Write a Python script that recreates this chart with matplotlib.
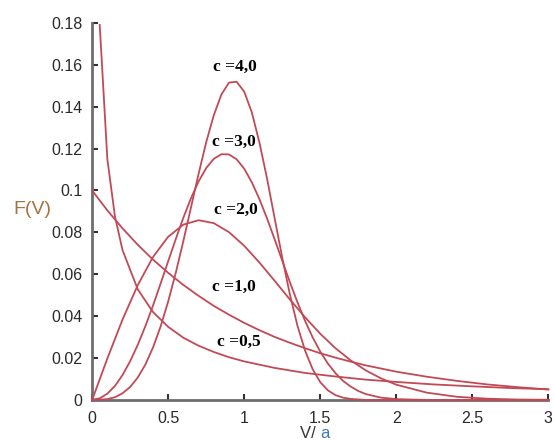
import matplotlib
matplotlib.use("Agg")
import matplotlib.pyplot as plt

# Weibull densities F(V) for several shape factors c
x_c05 = [0.05, 0.1, 0.15, 0.2, 0.3, 0.4, 0.5, 0.6, 0.7, 0.8, 0.9, 1.0,
         1.2, 1.4, 1.6, 1.8, 2.0, 2.25, 2.5, 2.75, 3.0]
y_c05 = [0.179, 0.115, 0.0876, 0.0715, 0.0528, 0.042, 0.0349, 0.0297, 0.0259,
         0.0229, 0.0204, 0.0184, 0.0153, 0.0129, 0.0112, 0.0097, 0.0086,
         0.0074, 0.0065, 0.0057, 0.0051]

x_c1 = [0, 0.1, 0.2, 0.3, 0.4, 0.5, 0.6, 0.7, 0.8, 0.9, 1.0, 1.1, 1.2, 1.3,
        1.4, 1.5, 1.6, 1.7, 1.8, 1.9, 2.0, 2.2, 2.4, 2.6, 2.8, 3.0]
y_c1 = [0.1, 0.0905, 0.0819, 0.0741, 0.067, 0.0607, 0.0549, 0.0497, 0.0449,
        0.0407, 0.0368, 0.0333, 0.0301, 0.0273, 0.0247, 0.0223, 0.0202,
        0.0183, 0.0165, 0.015, 0.0135, 0.0111, 0.0091, 0.0074, 0.0061, 0.005]

x_c2 = [0, 0.1, 0.2, 0.3, 0.4, 0.5, 0.6, 0.7, 0.8, 0.9, 1.0, 1.1, 1.2, 1.3,
        1.4, 1.5, 1.6, 1.7, 1.8, 1.9, 2.0, 2.2, 2.4, 2.6, 2.8, 3.0]
y_c2 = [0, 0.0198, 0.0384, 0.0548, 0.0682, 0.0779, 0.0837, 0.0858, 0.0844,
        0.0801, 0.0736, 0.0656, 0.0569, 0.048, 0.0395, 0.0316, 0.0247,
        0.0189, 0.0141, 0.0103, 0.0073, 0.0035, 0.0015, 0.0006, 0.0002, 0.0001]

x_c3 = [0, 0.05, 0.1, 0.15, 0.2, 0.25, 0.3, 0.35, 0.4, 0.45, 0.5, 0.55, 0.6,
        0.65, 0.7, 0.75, 0.8, 0.85, 0.9, 0.95, 1.0, 1.05, 1.1, 1.15, 1.2,
        1.25, 1.3, 1.35, 1.4, 1.45, 1.5, 1.55, 1.6, 1.65, 1.7, 1.75, 1.8,
        1.9, 2.0, 2.2, 3.0]
y_c3 = [0, 0.0008, 0.003, 0.0067, 0.0119, 0.0185, 0.0263, 0.0352, 0.045,
        0.0555, 0.0662, 0.0768, 0.087, 0.0963, 0.1043, 0.1107, 0.1151,
        0.1173, 0.1172, 0.1149, 0.1104, 0.1039, 0.0959, 0.0867, 0.0767,
        0.0665, 0.0563, 0.0467, 0.0378, 0.0299, 0.0231, 0.0174, 0.0128,
        0.0091, 0.0064, 0.0043, 0.0028, 0.0011, 0.0004, 0, 0]

x_c4 = [0, 0.1, 0.15, 0.2, 0.25, 0.3, 0.35, 0.4, 0.45, 0.5, 0.55, 0.6, 0.65,
        0.7, 0.75, 0.8, 0.85, 0.9, 0.95, 1.0, 1.05, 1.1, 1.15, 1.2, 1.25,
        1.3, 1.35, 1.4, 1.45, 1.5, 1.55, 1.6, 1.65, 1.7, 1.8, 3.0]
y_c4 = [0, 0.0004, 0.0013, 0.0032, 0.0062, 0.0107, 0.0169, 0.025, 0.035,
        0.047, 0.0607, 0.0759, 0.0919, 0.1079, 0.123, 0.1359, 0.1458, 0.1515,
        0.1519, 0.1472, 0.1373, 0.1229, 0.1058, 0.0868, 0.068, 0.0505,
        0.0355, 0.0236, 0.0147, 0.0085, 0.0046, 0.0023, 0.0011, 0.0005, 0, 0]

labels = ["c =4,0", "c =3,0", "c =2,0", "c =1,0", "c =0,5"]
label_x = [0.94, 0.935, 0.945, 0.935, 0.965]
label_y = [0.159, 0.123, 0.0905, 0.054, 0.0275]

xticks = [0, 0.5, 1, 1.5, 2, 2.5, 3]
xtick_labels = ["0", "0.5", "1", "1.5", "2", "2.5", "3"]
yticks = [0, 0.02, 0.04, 0.06, 0.08, 0.1, 0.12, 0.14, 0.16, 0.18]
ytick_labels = ["0", "0.02", "0.04", "0.06", "0.08", "0.1", "0.12", "0.14",
                "0.16", "0.18"]

plt.rcParams["font.family"] = ["Liberation Sans", "DejaVu Sans"]

fig = plt.figure(figsize=(5.55, 4.4), dpi=100)
ax = fig.add_axes([0.166, 0.091, 0.822, 0.857])

curve_color = "#c24a56"
for xs, ys in [(x_c05, y_c05), (x_c1, y_c1), (x_c2, y_c2),
               (x_c3, y_c3), (x_c4, y_c4)]:
    ax.plot(xs, ys, color=curve_color, lw=1.3, zorder=3, clip_on=False)

for lab, lx, ly in zip(labels, label_x, label_y):
    ax.text(lx, ly, lab, ha="center", va="center", fontsize=12.5,
            fontweight="bold", family="Liberation Serif", color="black")

ax.set_xlim(0, 3)
ax.set_ylim(0, 0.18)
ax.set_xticks(xticks)
ax.set_xticklabels(xtick_labels)
ax.set_yticks(yticks)
ax.set_yticklabels(ytick_labels)

for side in ["top", "right"]:
    ax.spines[side].set_visible(False)
for side in ["left", "bottom"]:
    ax.spines[side].set_color("#6e6e6e")
    ax.spines[side].set_linewidth(2)

ax.tick_params(direction="in", length=4, width=1.5, color="#333333",
               labelsize=11.5, labelcolor="#2a2a2a")
ax.tick_params(axis="y", pad=7)
ax.tick_params(axis="x", pad=8)

# axis titles
ax.text(-0.13, 0.505, "F(V)", transform=ax.transAxes, ha="center",
        va="center", fontsize=14, color="#a8743e")
ax.text(0.5, -0.09, "V/ ", transform=ax.transAxes, ha="right",
        va="center", fontsize=12, color="#333333")
ax.text(0.5, -0.09, "a", transform=ax.transAxes, ha="left",
        va="center", fontsize=12, color="#3a78c0")

fig.savefig("out.png", dpi=100)
